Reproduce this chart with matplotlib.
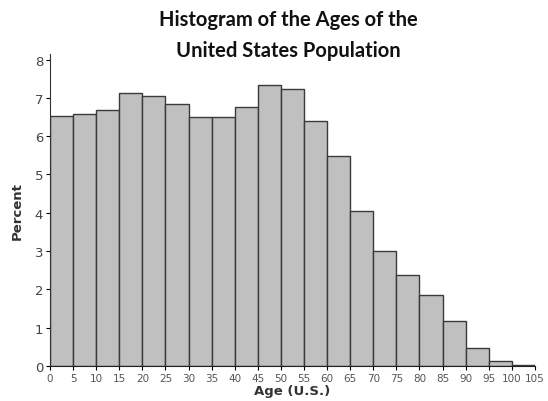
import numpy as np
import matplotlib
matplotlib.use("Agg")
import matplotlib.pyplot as plt

# bin left edges (age) and percent of population in each 5-year bin
edades = np.arange(0, 105, 5)
porcentajes = [6.52, 6.58, 6.69, 7.12, 7.04, 6.85, 6.49, 6.49, 6.77, 7.34,
               7.22, 6.39, 5.48, 4.05, 3.0, 2.37, 1.86, 1.17, 0.47, 0.13, 0.03]
ticks_x = np.arange(0, 110, 5)
ticks_y = np.arange(0, 9, 1)

fig = plt.figure(figsize=(5.48, 4.02), dpi=100)
ax = fig.add_axes([0.0912, 0.0871, 0.885, 0.7766])

ax.bar(edades, porcentajes, width=5, align='edge', color='#c0c0c0',
       edgecolor='#3a3a3a', linewidth=1.0)

ax.set_xlim(0, 105)
ax.set_ylim(0, 8.15)
ax.set_xticks(ticks_x)
ax.set_yticks(ticks_y)
ax.tick_params(axis='x', labelsize=7.5, labelcolor='#555555', length=3, pad=2)
ax.tick_params(axis='y', labelsize=9.5, labelcolor='#444444', length=3, pad=2)
for s in ['top', 'right']:
    ax.spines[s].set_visible(False)
ax.spines['left'].set_color('#333333')
ax.spines['bottom'].set_color('#222222')

ax.set_xlabel('Age (U.S.)', fontsize=9.5, fontweight='bold', color='#333333', labelpad=1)
ax.set_ylabel('Percent', fontsize=9.5, fontweight='bold', color='#333333', labelpad=8)

fig.text(0.527, 0.951, 'Histogram of the Ages of the', ha='center', va='center',
         fontsize=14.5, fontweight='bold', family='Lato', color='#111111')
fig.text(0.527, 0.872, 'United States Population', ha='center', va='center',
         fontsize=14.5, fontweight='bold', family='Lato', color='#111111')

fig.savefig('out.png', dpi=100)
